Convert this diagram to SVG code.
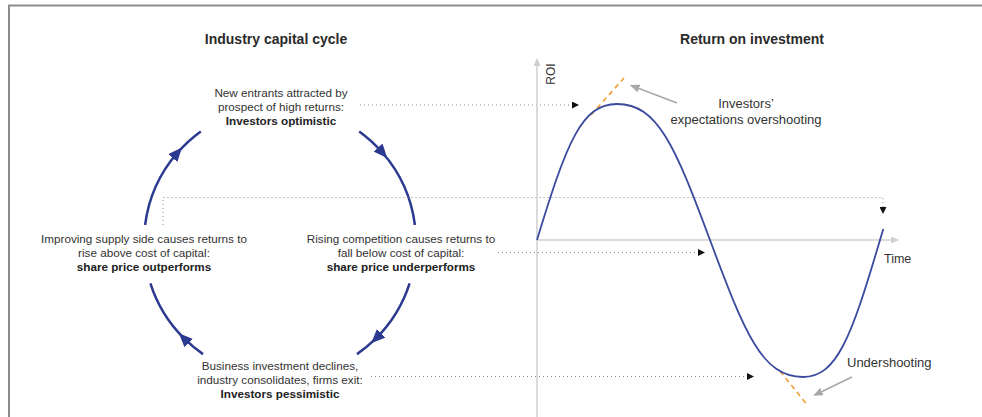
<svg xmlns="http://www.w3.org/2000/svg" width="982" height="417" viewBox="0 0 982 417">
<style>
text{font-family:"Liberation Sans",Arial,sans-serif;fill:#333}
.t{font-size:14px;font-weight:bold;fill:#2a2a2a;text-anchor:middle}
.l{font-size:11.7px;text-anchor:middle}
.b{font-weight:bold;fill:#222}
.c{font-size:13px;text-anchor:middle}
.arc{fill:none;stroke:#2b3990;stroke-width:2.5}
.dot{fill:none;stroke:#888;stroke-width:1;stroke-dasharray:1 3}
.axis{fill:none;stroke:#cfcfcf;stroke-width:1.5}
.tan{fill:none;stroke:#f39c34;stroke-width:1.6;stroke-dasharray:5 4}
.ptr{fill:none;stroke:#a8a8a8;stroke-width:1.5}
</style>
<defs>
<marker id="cyc" viewBox="0 0 14 12" refX="7" refY="6" markerWidth="14" markerHeight="12" markerUnits="userSpaceOnUse" orient="auto"><path d="M0,0 L14,6 L0,12 z" fill="#2b3990"/></marker>
<marker id="blk" viewBox="0 0 7 7" refX="0" refY="3.5" markerWidth="7" markerHeight="7" markerUnits="userSpaceOnUse" orient="auto"><path d="M0,0 L7,3.5 L0,7 z" fill="#111"/></marker>
<marker id="gry" viewBox="0 0 10 8" refX="0" refY="4" markerWidth="10" markerHeight="8" markerUnits="userSpaceOnUse" orient="auto"><path d="M0,0 L10,4 L0,8 z" fill="#a8a8a8"/></marker>
<marker id="ax" viewBox="0 0 8 7" refX="0" refY="3.5" markerWidth="8" markerHeight="7" markerUnits="userSpaceOnUse" orient="auto"><path d="M0,0 L8,3.5 L0,7 z" fill="#cfcfcf"/></marker>
</defs>
<g id="frame" fill="none" stroke="#8c8c8c" stroke-width="2">
<path d="M9,417 V5.5 H982"/>
</g>
<g id="titles">
<text class="t" x="276" y="44">Industry capital cycle</text>
<text class="t" x="752" y="44">Return on investment</text>
</g>
<g id="connectors">
<path class="arc" d="M145.1,225 A136,136 0 0 1 177.4,152.8" marker-end="url(#cyc)"/>
<path class="arc" d="M177.4,152.8 A136,136 0 0 1 200.8,131.4"/>
<path class="arc" d="M359.2,131.4 A136,136 0 0 1 382.6,152.8" marker-end="url(#cyc)"/>
<path class="arc" d="M382.6,152.8 A136,136 0 0 1 414.9,225"/>
<path class="arc" d="M409.6,283.4 A136,136 0 0 1 376.2,338.2" marker-end="url(#cyc)"/>
<path class="arc" d="M376.2,338.2 A136,136 0 0 1 357,354.1"/>
<path class="arc" d="M203,354.1 A136,136 0 0 1 183.8,338.2" marker-end="url(#cyc)"/>
<path class="arc" d="M183.8,338.2 A136,136 0 0 1 150.4,283.4"/>
<path class="dot" d="M360,105 H572" marker-end="url(#blk)"/>
<path class="dot" d="M163,225 V197.5 H883 V207" marker-end="url(#blk)"/>
<path class="dot" d="M498,252.5 H698" marker-end="url(#blk)"/>
<path class="dot" d="M371,376.5 H747" marker-end="url(#blk)"/>
</g>
<g id="node-top">
<text class="l" x="281" y="97">New entrants attracted by</text>
<text class="l" x="281" y="111">prospect of high returns:</text>
<text class="l b" x="281" y="125">Investors optimistic</text>
</g>
<g id="node-left">
<text class="l" x="144" y="243">Improving supply side causes returns to</text>
<text class="l" x="144" y="257">rise above cost of capital:</text>
<text class="l b" x="144" y="271">share price outperforms</text>
</g>
<g id="node-right">
<text class="l" x="401" y="243">Rising competition causes returns to</text>
<text class="l" x="401" y="257">fall below cost of capital:</text>
<text class="l b" x="401" y="271">share price underperforms</text>
</g>
<g id="node-bottom">
<text class="l" x="280" y="370">Business investment declines,</text>
<text class="l" x="280" y="384">industry consolidates, firms exit:</text>
<text class="l b" x="280" y="398">Investors pessimistic</text>
</g>
<g id="chart">
<path class="axis" d="M537,417 V66" marker-end="url(#ax)"/>
<path class="axis" d="M537,240 H891" marker-end="url(#ax)"/>
<text x="555" y="74" font-size="12" text-anchor="middle" transform="rotate(-90 555 74)">ROI</text>
<text x="884" y="263" font-size="12.5">Time</text>
<path class="tan" d="M591,115 L624,78"/>
<path class="tan" d="M780,371 L808,406"/>
<path d="M537,240 C567,141 582,104 617,104 C657.7,104 675,146 710,240 C745,334 762.3,377 803,377 C836.7,377 851.1,338 880,240 L883.3,229" fill="none" stroke="#3a4a9e" stroke-width="1.8"/>
<path class="ptr" d="M677,103 L639,88.5" marker-end="url(#gry)"/>
<path class="ptr" d="M852,377 L822,391.5" marker-end="url(#gry)"/>
<text class="c" x="746" y="108">Investors’</text>
<text class="c" x="746" y="124">expectations overshooting</text>
<text x="847" y="367" font-size="13">Undershooting</text>
</g>
</svg>
